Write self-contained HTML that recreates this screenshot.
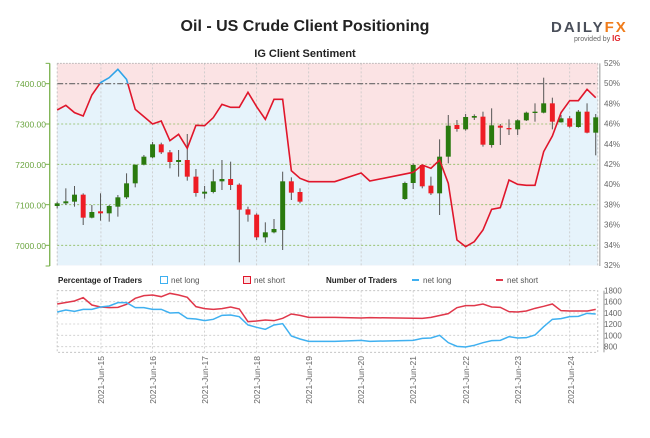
<!DOCTYPE html>
<html><head><meta charset="utf-8"><style>
html,body{margin:0;padding:0;background:#fff;}
body{width:650px;height:433px;overflow:hidden;font-family:"Liberation Sans",sans-serif;}
</style></head><body>
<svg id="s" width="650" height="433" xmlns="http://www.w3.org/2000/svg" font-family="Liberation Sans, sans-serif">
<text x="305" y="31" text-anchor="middle" font-size="16" font-weight="bold" fill="#222">Oil - US Crude Client Positioning</text>
<text x="305" y="57" text-anchor="middle" font-size="11" font-weight="bold" fill="#222">IG Client Sentiment</text>
<text x="551" y="32" font-size="15" font-weight="bold" fill="#4a4f5a" letter-spacing="2">DAILY<tspan fill="#f07c1b">FX</tspan></text>
<text x="574" y="41" font-size="7" fill="#666">provided by <tspan fill="#e0232a" font-weight="bold" font-size="8">IG</tspan></text>
<defs>
<clipPath id="above"><rect x="0" y="0" width="2000" height="101"/></clipPath>
<clipPath id="below"><rect x="0" y="101" width="2000" height="700"/></clipPath>
</defs>
<g id="main" transform="matrix(0.413,0,0,0.33333,1,50)"></g>
<g id="bot" transform="matrix(0.413,0,0,0.33333,1,265)"></g>
<g id="txt" font-size="8.5"></g>
</svg>
<script>
var NS="http://www.w3.org/2000/svg";
function el(p,t,a){var e=document.createElementNS(NS,t);for(var k in a)e.setAttribute(k,a[k]);p.appendChild(e);return e;}
var M=document.getElementById('main'),B=document.getElementById('bot'),T=document.getElementById('txt');
var nse={'vector-effect':'non-scaling-stroke'};
function A(o){for(var k in nse)o[k]=nse[k];return o;}
var line=[[136,180],[157,166],[178,188],[199,198],[220,135],[241,98],[262,83],[283,58],[304,88],[325,178],[346,200],[367,222],[388,213],[409,272],[430,253],[451,295],[472,226],[493,227],[514,203],[535,163],[556,172],[577,172],[598,127],[619,170],[640,208],[661,148],[682,148],[703,362],[724,385],[745,395],[808,395],[872,369],[893,393],[998,367],[1020,345],[1041,355],[1062,330],[1083,400],[1104,570],[1125,590],[1146,575],[1167,540],[1188,478],[1209,473],[1230,390],[1251,403],[1272,406],[1293,406],[1314,305],[1335,258],[1356,188],[1377,152],[1398,152],[1419,118],[1440,143]];
var pts=line.map(function(p){return p.join(',')}).join(' ');
el(M,'rect',{x:136,y:40,width:1309,height:606,fill:'#fbe3e4'});
el(M,'polygon',{points:'136,646 '+pts+' 1445,143 1445,646',fill:'#e6f3fb'});
// vertical grid
var days=[242,346,451,556,661,766,872,998,1125,1251,1380];
var dticks=[242,346,451,556,661,766,872,998,1125,1251,1380];
[242,367,493,619,745,872,998,1125,1251,1377].forEach(function(x){
 el(M,'line',A({x1:x,y1:40,x2:x,y2:646,stroke:'#c8c8c8','stroke-width':0.8,'stroke-dasharray':'2,2'}));
 el(B,'line',A({x1:x,y1:77,x2:x,y2:262,stroke:'#c8c8c8','stroke-width':0.8,'stroke-dasharray':'2,2'}));
});
[40].forEach(function(y){el(M,'line',A({x1:136,y1:y,x2:1445,y2:y,stroke:'#aaa','stroke-width':0.8,'stroke-dasharray':'1.5,1.5'}));});
[222,343,464,586].forEach(function(y){el(M,'line',A({x1:136,y1:y,x2:1445,y2:y,stroke:'#8dbb5e','stroke-width':0.8,'stroke-dasharray':'2,2'}));});
el(M,'line',A({x1:136,y1:101,x2:1445,y2:101,stroke:'#666','stroke-width':1.2,'stroke-dasharray':'6,2,2,2'}));
el(M,'line',A({x1:136,y1:40,x2:136,y2:646,stroke:'#bbb','stroke-width':0.8,'stroke-dasharray':'2,2'}));
el(M,'line',A({x1:1445,y1:40,x2:1445,y2:646,stroke:'#bbb','stroke-width':0.8,'stroke-dasharray':'2,2'}));
// candles
var c=[[136,460,468,455,475,'g'],[157,454,460,415,465,'g'],[178,434,455,408,470,'g'],[199,434,503,430,525,'r'],[220,486,503,465,505,'g'],[241,484,490,430,512,'r'],[262,468,490,465,515,'g'],[283,442,470,435,500,'g'],[304,400,442,370,447,'g'],[325,344,400,344,412,'g'],[346,320,344,315,346,'g'],[367,283,322,276,325,'g'],[388,283,307,278,312,'r'],[409,307,336,300,355,'r'],[430,330,336,300,380,'g'],[451,330,380,252,392,'r'],[472,380,429,357,440,'r'],[493,425,431,408,446,'g'],[514,394,426,358,430,'g'],[535,387,394,330,420,'g'],[556,387,405,335,420,'r'],[577,404,479,400,637,'r'],[598,478,494,470,515,'r'],[619,494,562,490,570,'r'],[640,547,562,517,578,'g'],[661,537,547,507,550,'g'],[682,394,540,365,600,'g'],[703,394,428,382,450,'r'],[724,426,455,415,460,'r'],[978,399,447,395,450,'g'],[998,345,399,340,417,'g'],[1020,345,409,345,415,'r'],[1041,407,430,380,435,'r'],[1062,320,430,268,495,'g'],[1083,227,320,195,340,'g'],[1104,225,237,210,245,'r'],[1125,201,238,192,242,'g'],[1146,198,203,193,210,'g'],[1167,200,284,185,290,'r'],[1188,226,285,175,293,'g'],[1209,227,233,222,285,'r'],[1230,234,238,208,255,'r'],[1251,211,238,208,255,'g'],[1272,188,211,185,213,'g'],[1293,185,188,160,215,'g'],[1314,160,188,83,190,'g'],[1335,160,215,143,238,'r'],[1356,205,217,195,218,'g'],[1377,205,230,198,233,'r'],[1398,185,231,180,233,'g'],[1419,185,248,160,250,'r'],[1440,202,248,192,316,'g']];
c.forEach(function(d){
 el(M,'line',A({x1:d[0],y1:d[3],x2:d[0],y2:d[4],stroke:'#555','stroke-width':1}));
 var col=d[5]=='g'?'#2a7a0e':'#ee1c24';
 el(M,'rect',{x:d[0]-6,y:d[1],width:12,height:Math.max(d[2]-d[1],4),fill:col});
});
el(M,'polyline',A({points:pts,fill:'none',stroke:'#e0162b','stroke-width':1.6,'clip-path':'url(#below)'}));
el(M,'polyline',A({points:pts,fill:'none',stroke:'#2ea3e8','stroke-width':1.6,'clip-path':'url(#above)'}));
// left axis
el(M,'line',A({x1:118,y1:40,x2:118,y2:648,stroke:'#78b04a','stroke-width':1.3}));
[40,101,222,343,464,586,648].forEach(function(y){el(M,'line',A({x1:108,y1:y,x2:118,y2:y,stroke:'#78b04a','stroke-width':1}));});
el(M,'line',A({x1:1450,y1:40,x2:1450,y2:648,stroke:'#999','stroke-width':1}));
// bottom chart
el(B,'rect',A({x:136,y:77,width:1309,height:185,fill:'none',stroke:'#bbb','stroke-width':0.8,'stroke-dasharray':'2,2'}));
[110,144,177,211,245].forEach(function(y){el(B,'line',A({x1:136,y1:y,x2:1445,y2:y,stroke:'#ccc','stroke-width':0.8,'stroke-dasharray':'2,2'}));});
el(B,'line',A({x1:1460,y1:77,x2:1460,y2:262,stroke:'#999','stroke-width':1}));
var rs=[[136,117],[178,108],[199,98],[220,120],[241,126],[262,128],[283,127],[304,118],[325,100],[346,92],[367,90],[388,95],[409,85],[430,90],[451,97],[472,125],[493,131],[514,133],[535,131],[556,126],[577,132],[598,170],[619,168],[640,165],[661,167],[682,160],[703,147],[724,151],[745,157],[808,157],[872,159],[893,158],[1020,160],[1041,157],[1083,146],[1104,128],[1125,122],[1146,122],[1167,117],[1188,126],[1209,127],[1230,140],[1251,141],[1272,138],[1293,130],[1314,124],[1335,117],[1356,137],[1377,138],[1420,138],[1440,133]];
var bl=[[136,141],[157,135],[178,139],[199,133],[220,133],[241,126],[262,123],[283,113],[304,113],[325,128],[346,128],[367,133],[388,133],[409,144],[430,143],[451,160],[472,162],[493,167],[514,163],[535,151],[556,150],[577,155],[598,180],[619,187],[640,193],[661,180],[682,176],[703,213],[724,222],[745,229],[808,229],[872,226],[893,229],[998,226],[1020,220],[1041,219],[1062,211],[1083,233],[1104,244],[1125,246],[1146,241],[1167,233],[1188,227],[1209,226],[1230,215],[1251,219],[1272,218],[1293,210],[1314,185],[1335,163],[1356,161],[1377,155],[1398,154],[1419,145],[1440,147]];
el(B,'polyline',A({points:rs.map(String).join(' '),fill:'none',stroke:'#e0374a','stroke-width':1.5}));
el(B,'polyline',A({points:bl.map(String).join(' '),fill:'none',stroke:'#3fb0f0','stroke-width':1.5}));
// texts
function tx(x,y,s,o){var a={x:x,y:y,fill:o&&o.fill||'#666'};if(o)for(var k in o)a[k]=o[k];var e=el(T,'text',a);e.textContent=s;return e;}
var lv=['7400.00','7300.00','7200.00','7100.00','7000.00'],ly=[84,124.5,165,205.5,246];
lv.forEach(function(s,i){tx(46,ly[i]+3,s,{'text-anchor':'end',fill:'#6aa53f'});});
['52%','50%','48%','46%','44%','42%','40%','38%','36%','34%','32%'].forEach(function(s,i){tx(604,63+i*20.2+3,s,{'font-size':'8'});});
['1800','1600','1400','1200','1000','800'].forEach(function(s,i){tx(604,[290.7,301.7,313,324,335.3,346.7][i]+3,s,{'font-size':'8'});});
tx(58,283,'Percentage of Traders',{'font-weight':'bold',fill:'#222','font-size':'8'});
el(T,'rect',{x:160.5,y:276.5,width:7,height:7,fill:'#fff',stroke:'#3fb0f0'});
tx(171,283,'net long',{fill:'#555','font-size':'8'});
el(T,'rect',{x:243.5,y:276.5,width:7,height:7,fill:'#fbe3e4',stroke:'#e0162b'});
tx(254,283,'net short',{fill:'#555','font-size':'8'});
tx(326,283,'Number of Traders',{'font-weight':'bold',fill:'#222','font-size':'8'});
el(T,'line',{x1:412,y1:280,x2:419,y2:280,stroke:'#3fb0f0','stroke-width':2});
tx(423,283,'net long',{fill:'#555','font-size':'8'});
el(T,'line',{x1:496,y1:280,x2:503,y2:280,stroke:'#e0374a','stroke-width':2});
tx(507,283,'net short',{fill:'#555','font-size':'8'});
[15,16,17,18,19,20,21,22,23,24].forEach(function(d,i){
 var x=[101,153,205,257,309,361,413,466,518,571][i]+3;
 tx(x,356,'2021-Jun-'+d,{'text-anchor':'end',transform:'rotate(-90 '+x+' 356)',fill:'#666','font-size':'8.5'});
});
</script>
</body></html>
